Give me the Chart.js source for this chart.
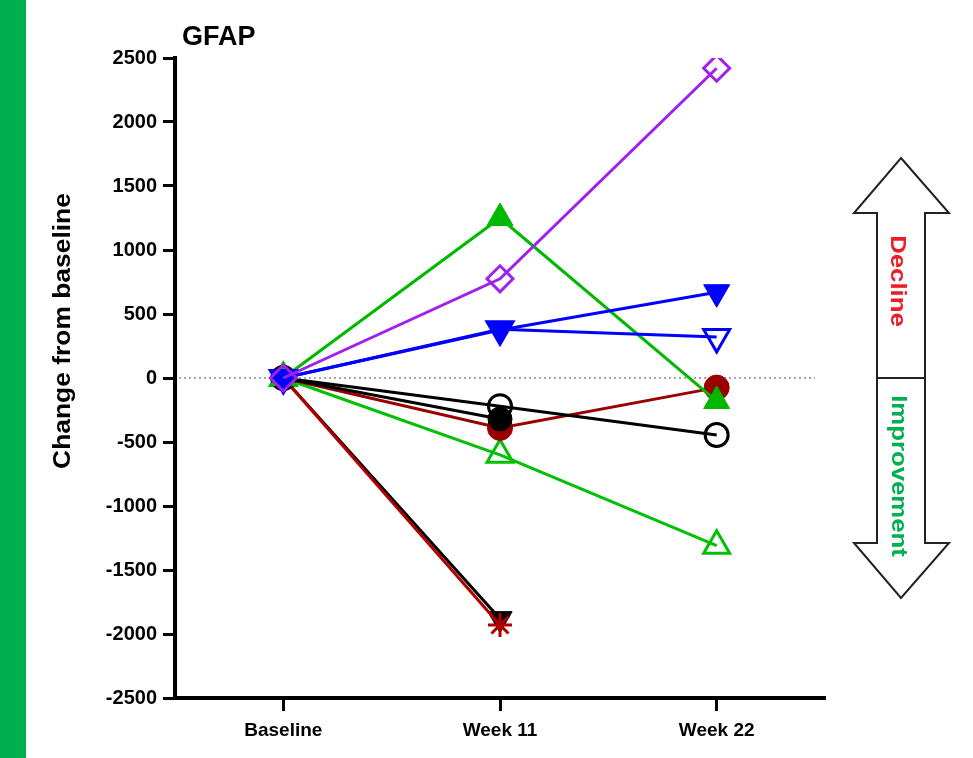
<!DOCTYPE html>
<html>
<head>
<meta charset="utf-8">
<script src="https://cdn.jsdelivr.net/npm/chart.js@4.4.1/dist/chart.umd.min.js"></script>
<style>
  html, body { margin: 0; padding: 0; background: #fff; }
  #wrap { width: 973px; height: 758px; }
</style>
</head>
<body>
<div id="wrap"><canvas id="gfap_chart" width="973" height="758"></canvas></div>
<script>
// time points on the x axis
var timepoints = ["Baseline", "Week 11", "Week 22"];

// change from baseline, one array per subject
var purpleDiamond   = [0, 775, 2420];
var blueDownFilled  = [0, 375, 670];
var blueDownOpen    = [0, 380, 320];
var greenUpFilled   = [0, 1250, -180];
var blackCircleOpen = [0, -220, -445];
var blackCircle     = [0, -320, null];
var redCircle       = [0, -390, -75];
var greenUpOpen     = [0, -600, -1310];
var redStar         = [0, -1930, null];
var blackDownFilled = [0, -1880, null];

var FONT = "'Liberation Sans', Arial, sans-serif";

function series(data, color, style, filled, radius, rotation) {
  return {
    data: data,
    borderColor: color,
    borderWidth: 3,
    pointStyle: style,
    pointRotation: rotation || 0,
    pointRadius: radius,
    pointBackgroundColor: filled ? color : 'rgba(0,0,0,0)',
    pointBorderColor: color,
    pointBorderWidth: filled ? 1 : 3,
    fill: false,
    tension: 0
  };
}

// first dataset ends up on top
var datasets = [
  series(purpleDiamond,   '#a020f0', 'rectRot',  false, 13),
  series(blueDownFilled,  '#0000ff', 'triangle', true,  15, 180),
  series(blueDownOpen,    '#0000ff', 'triangle', false, 15, 180),
  series(greenUpFilled,   '#00b800', 'triangle', true,  15),
  series(blackCircleOpen, '#000000', 'circle',   false, 11.5),
  series(blackCircle,     '#000000', 'circle',   true,  12),
  series(redCircle,       '#990000', 'circle',   true,  12.5),
  series(greenUpOpen,     '#00c000', 'triangle', false, 15),
  series(redStar,         '#b00000', 'star',     false, 12),
  series(blackDownFilled, '#000000', 'triangle', true,  14, 180)
];

// background strip, titles, zero line and the direction arrow
var decorations = {
  id: 'decorations',
  beforeDraw: function (chart) {
    var ctx = chart.ctx;
    ctx.save();
    ctx.fillStyle = '#fff';
    ctx.fillRect(0, 0, chart.width, chart.height);
    ctx.fillStyle = '#00b050';
    ctx.fillRect(0, 0, 26, chart.height);
    ctx.restore();
  },
  beforeDatasetsDraw: function (chart) {
    var ctx = chart.ctx, area = chart.chartArea;
    var y0 = chart.scales.y.getPixelForValue(0);
    ctx.save();
    ctx.strokeStyle = '#8a8a8a';
    ctx.lineWidth = 1.3;
    ctx.setLineDash([2, 3]);
    ctx.beginPath();
    ctx.moveTo(area.left + 4, y0);
    ctx.lineTo(area.right - 10, y0);
    ctx.stroke();
    ctx.restore();
  },
  afterDraw: function (chart) {
    var ctx = chart.ctx;
    var y0 = chart.scales.y.getPixelForValue(0);

    // chart title
    ctx.save();
    ctx.fillStyle = '#000';
    ctx.font = 'bold 27px ' + FONT;
    ctx.textAlign = 'left';
    ctx.textBaseline = 'alphabetic';
    ctx.fillText('GFAP', 182, 45);
    ctx.restore();

    // y axis title
    ctx.save();
    ctx.translate(63, 331);
    ctx.rotate(-Math.PI / 2);
    ctx.scale(1.1, 1);
    ctx.fillStyle = '#000';
    ctx.font = 'bold 24px ' + FONT;
    ctx.textAlign = 'center';
    ctx.textBaseline = 'middle';
    ctx.fillText('Change from baseline', 0, 0);
    ctx.restore();

    // double-headed arrow
    var cx = 901, sl = 877, sr = 925, hl = 854, hr = 949;
    var topTip = 158, topBase = 213, botBase = 543, botTip = 598;
    ctx.save();
    ctx.beginPath();
    ctx.moveTo(cx, topTip);
    ctx.lineTo(hr, topBase);
    ctx.lineTo(sr, topBase);
    ctx.lineTo(sr, botBase);
    ctx.lineTo(hr, botBase);
    ctx.lineTo(cx, botTip);
    ctx.lineTo(hl, botBase);
    ctx.lineTo(sl, botBase);
    ctx.lineTo(sl, topBase);
    ctx.lineTo(hl, topBase);
    ctx.closePath();
    ctx.fillStyle = '#fff';
    ctx.fill();
    ctx.strokeStyle = '#222';
    ctx.lineWidth = 2;
    ctx.lineJoin = 'miter';
    ctx.stroke();
    ctx.beginPath();
    ctx.moveTo(sl, y0);
    ctx.lineTo(sr, y0);
    ctx.stroke();
    ctx.restore();

    function sideLabel(text, x, y, color) {
      ctx.save();
      ctx.translate(x, y);
      ctx.rotate(Math.PI / 2);
      ctx.scale(1.17, 1);
      ctx.fillStyle = color;
      ctx.font = 'bold 22px ' + FONT;
      ctx.textAlign = 'center';
      ctx.textBaseline = 'middle';
      ctx.fillText(text, 0, 0);
      ctx.restore();
    }
    sideLabel('Decline', 897, 281, '#ee1c25');
    sideLabel('Improvement', 898, 476, '#00b050');
  }
};

var xFont = { family: FONT, size: 19, weight: 'bold' };
var yFont = { family: FONT, size: 20, weight: 'bold' };

new Chart(document.getElementById('gfap_chart').getContext('2d'), {
  type: 'line',
  data: { labels: timepoints, datasets: datasets },
  options: {
    responsive: false,
    animation: false,
    layout: { padding: { left: 0, right: 148, top: 58, bottom: 0 } },
    plugins: { legend: { display: false }, tooltip: { enabled: false }, title: { display: false } },
    scales: {
      x: {
        type: 'category',
        offset: true,
        ticks: { color: '#000', font: xFont, padding: 8, maxRotation: 0 },
        grid: { drawOnChartArea: false, drawTicks: true, tickLength: 13, tickWidth: 3, tickColor: '#000' },
        border: { display: true, color: '#000', width: 4 },
        afterFit: function (s) { s.height = 60; }
      },
      y: {
        min: -2500,
        max: 2500,
        ticks: {
          stepSize: 500,
          color: '#000',
          font: yFont,
          padding: 6,
          callback: function (v) { return String(v); }
        },
        grid: { drawOnChartArea: false, drawTicks: true, tickLength: 12, tickWidth: 3, tickColor: '#000' },
        border: { display: true, color: '#000', width: 4 },
        afterFit: function (s) { s.width = 175; }
      }
    }
  },
  plugins: [decorations]
});
</script>
</body>
</html>
